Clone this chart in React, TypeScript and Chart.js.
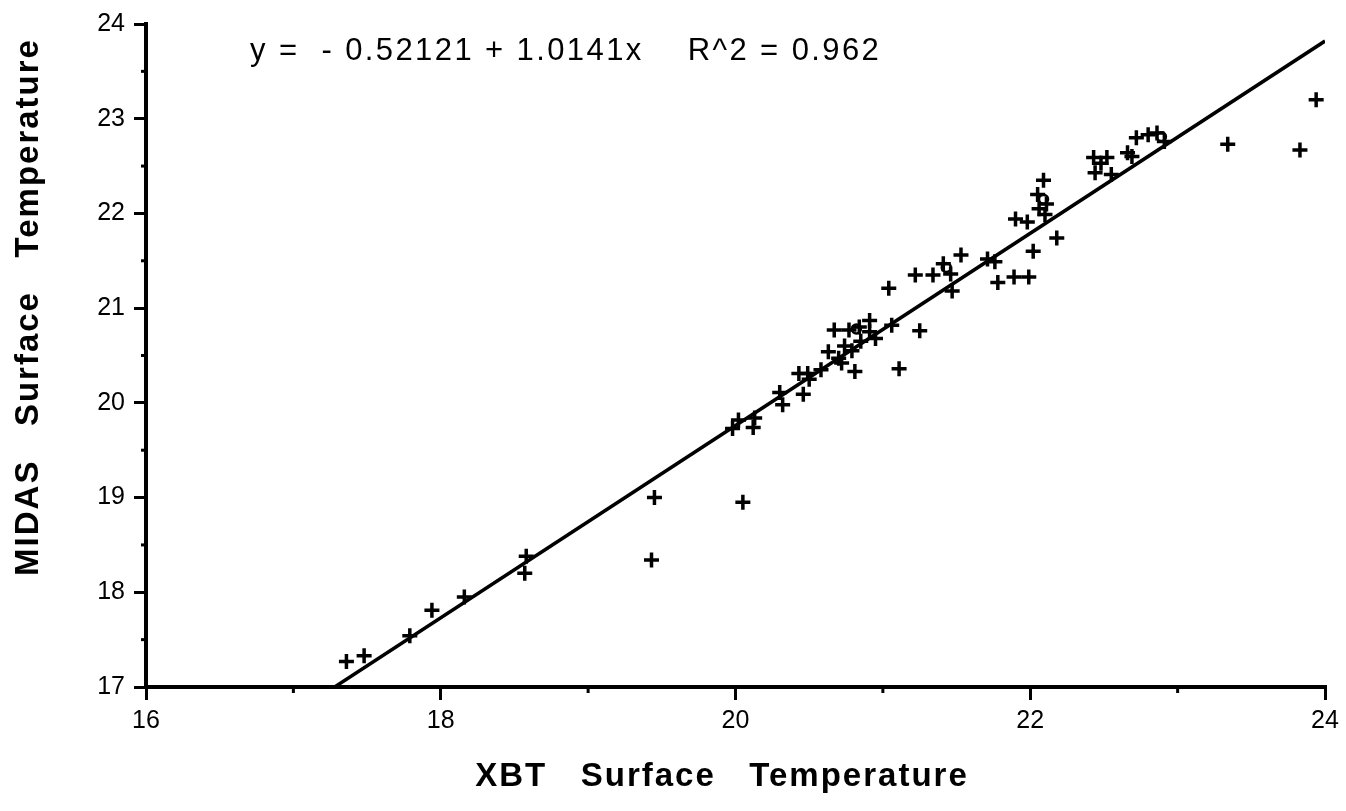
import React, { useEffect, useRef } from "react";
import { Chart, registerables } from "chart.js";

Chart.register(...registerables);

// XBT (x) vs MIDAS (y) surface temperatures, plotted as "+"
const xbtTemps = [
  17.36, 17.48, 17.79, 17.94, 18.16, 18.58, 18.57, 19.45, 19.43,
  19.98, 20.02, 20.13, 20.12, 20.05,
  20.30, 20.32, 20.43, 20.49, 20.46, 20.50, 20.58, 20.63, 20.67, 20.70,
  20.72, 20.74, 20.77, 20.79, 20.81, 20.84, 20.91, 20.91, 20.95, 20.85,
  21.06, 21.11, 21.04, 21.25,
  21.22, 21.34, 21.41, 21.46, 21.47, 21.53, 21.71, 21.76, 21.78, 21.89,
  21.99, 22.02, 22.18, 21.90, 21.98, 22.05, 22.09, 22.11, 22.06, 22.10,
  22.43, 22.52, 22.44, 22.55, 22.48, 22.66, 22.69, 22.72, 22.80, 22.86,
  22.91, 23.34, 23.83, 23.94,
];
const midasTemps = [
  17.27, 17.33, 17.54, 17.81, 17.95, 18.38, 18.20, 19.00, 18.34,
  19.73, 19.82, 19.84, 19.74, 18.95,
  20.11, 19.98, 20.31, 20.31, 20.09, 20.25, 20.35, 20.54, 20.77, 20.47,
  20.42, 20.60, 20.77, 20.55, 20.33, 20.80, 20.87, 20.75, 20.68, 20.65,
  20.82, 20.36, 21.21, 20.76,
  21.35, 21.35, 21.47, 21.36, 21.18, 21.56, 21.52, 21.49, 21.27, 21.33,
  21.33, 21.60, 21.74, 21.94, 21.91, 22.20, 22.35, 22.10, 22.05, 21.99,
  22.59, 22.59, 22.43, 22.41, 22.53, 22.64, 22.60, 22.80, 22.83, 22.85,
  22.76, 22.73, 22.67, 23.20,
];

// points plotted with small open circles
const circleXbt = [20.82, 21.43, 22.09, 22.89];
const circleMidas = [20.78, 21.43, 22.15, 22.81];

// regression line end points: y = -0.52121 + 1.0141x
const fitLineX = [17.28, 24.0];
const fitLineY = [17.0, 23.82];

const xMin = 16;
const xMax = 24;
const yMin = 17;
const yMax = 24;
const xTickStep = 2;
const yTickStep = 1;

const equationText = "y =  - 0.52121 + 1.0141x    R^2 = 0.962";
const xAxisTitle = "XBT   Surface   Temperature";
const yAxisTitle = "MIDAS   Surface   Temperature";

const toPoints = (xs: number[], ys: number[]) => xs.map((x, i) => ({ x, y: ys[i] }));

const framePlugin = {
  id: "frameExtras",
  afterDraw(chart: any) {
    const { ctx, chartArea } = chart;
    const xs = chart.scales.x;
    const ys = chart.scales.y;
    ctx.save();
    ctx.strokeStyle = "#000";
    ctx.lineWidth = 3;
    // minor ticks on y (half units), pointing left
    for (let v = yMin + 0.5; v < yMax; v += 1) {
      const py = ys.getPixelForValue(v);
      ctx.beginPath();
      ctx.moveTo(chartArea.left - 5, py);
      ctx.lineTo(chartArea.left, py);
      ctx.stroke();
    }
    // minor ticks on x (odd units), pointing down
    for (let v = xMin + 1; v < xMax; v += 2) {
      const px = xs.getPixelForValue(v);
      ctx.beginPath();
      ctx.moveTo(px, chartArea.bottom);
      ctx.lineTo(px, chartArea.bottom + 6);
      ctx.stroke();
    }
    ctx.fillStyle = "#000";
    // equation
    (ctx as any).letterSpacing = "2.4px";
    ctx.font = "31px 'Liberation Sans', Arial, sans-serif";
    ctx.textAlign = "left";
    ctx.textBaseline = "alphabetic";
    ctx.fillText(equationText, 250, 60);
    // x title
    (ctx as any).letterSpacing = "2px";
    ctx.font = "bold 33px 'Liberation Sans', Arial, sans-serif";
    ctx.textAlign = "center";
    ctx.textBaseline = "middle";
    ctx.fillText(xAxisTitle, 722, 777);
    // y title
    ctx.save();
    ctx.translate(29, 307);
    ctx.rotate(-Math.PI / 2);
    ctx.fillText(yAxisTitle, 0, 0);
    ctx.restore();
    ctx.restore();
  },
};

export default function App() {
  const canvasRef = useRef<HTMLCanvasElement | null>(null);

  useEffect(() => {
    const canvas = canvasRef.current;
    if (!canvas) return;
    const chart = new Chart(canvas, {
      type: "scatter",
      data: {
        datasets: [
          {
            label: "fit",
            data: toPoints(fitLineX, fitLineY),
            showLine: true,
            borderColor: "#000",
            borderWidth: 3.5,
            pointRadius: 0,
            fill: false,
          },
          {
            label: "XBT vs MIDAS",
            data: toPoints(xbtTemps, midasTemps),
            pointStyle: "cross",
            pointRadius: 7.5,
            pointBorderWidth: 3.5,
            borderColor: "#000",
            backgroundColor: "#000",
          },
          {
            label: "circles",
            data: toPoints(circleXbt, circleMidas),
            pointStyle: "circle",
            pointRadius: 4.5,
            pointBorderWidth: 2.5,
            borderColor: "#000",
            backgroundColor: "rgba(0,0,0,0)",
          },
        ],
      },
      options: {
        responsive: false,
        animation: false,
        devicePixelRatio: 1,
        layout: { padding: { top: 21, right: 21, bottom: 0, left: 0 } },
        plugins: {
          legend: { display: false },
          tooltip: { enabled: false },
          title: { display: false },
        },
        scales: {
          x: {
            type: "linear",
            min: xMin,
            max: xMax,
            afterFit: (scale: any) => {
              scale.height = 124;
            },
            ticks: {
              stepSize: xTickStep,
              color: "#000",
              padding: 6,
              font: { family: "'Liberation Sans', Arial, sans-serif", size: 25 },
              maxRotation: 0,
            },
            grid: {
              display: true,
              drawOnChartArea: false,
              drawTicks: true,
              tickLength: 13,
              lineWidth: 3,
              color: "#000",
            },
            border: { display: true, width: 4, color: "#000" },
          },
          y: {
            type: "linear",
            min: yMin,
            max: yMax,
            afterFit: (scale: any) => {
              scale.width = 146;
            },
            ticks: {
              stepSize: yTickStep,
              color: "#000",
              padding: 9,
              font: { family: "'Liberation Sans', Arial, sans-serif", size: 25 },
            },
            grid: {
              display: true,
              drawOnChartArea: false,
              drawTicks: true,
              tickLength: 12,
              lineWidth: 3,
              color: "#000",
            },
            border: { display: true, width: 4, color: "#000" },
          },
        },
      },
      plugins: [framePlugin],
    });
    return () => chart.destroy();
  }, []);

  return (
    <div style={{ position: "absolute", left: 0, top: 0, width: 1346, height: 811, background: "#fff" }}>
      <canvas ref={canvasRef} width={1346} height={811} style={{ display: "block" }} />
    </div>
  );
}
